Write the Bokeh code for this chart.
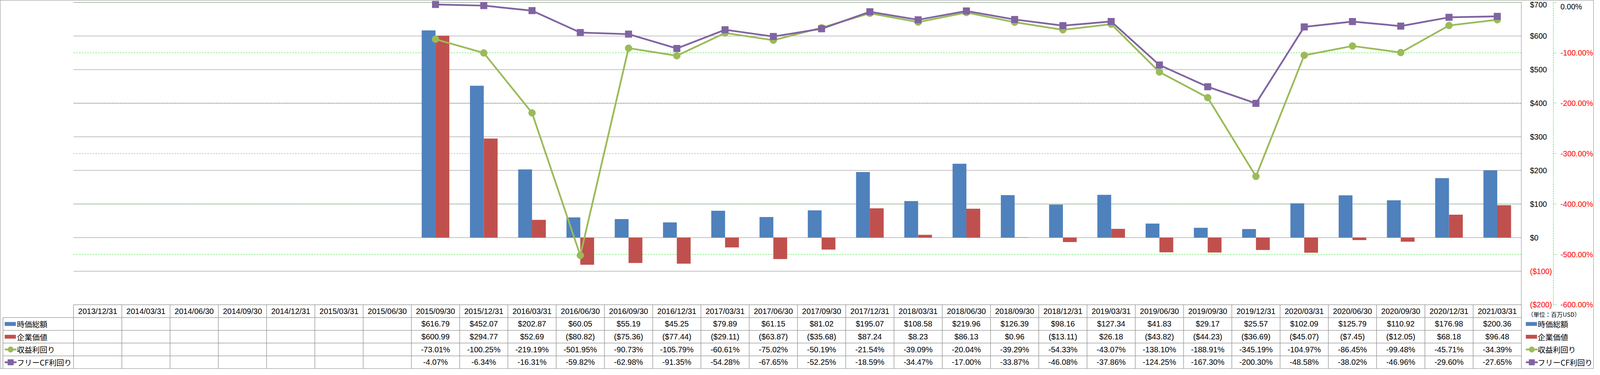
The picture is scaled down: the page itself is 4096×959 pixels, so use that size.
from bokeh.plotting import figure
from bokeh.models import Range1d, LinearAxis, FixedTicker, ColumnDataSource
from bokeh.core.properties import value
from bokeh.embed import file_html
from bokeh.resources import INLINE

# ---------------- data ----------------
dates = ["2013/12/31", "2014/03/31", "2014/06/30", "2014/09/30", "2014/12/31",
         "2015/03/31", "2015/06/30", "2015/09/30", "2015/12/31", "2016/03/31",
         "2016/06/30", "2016/09/30", "2016/12/31", "2017/03/31", "2017/06/30",
         "2017/09/30", "2017/12/31", "2018/03/31", "2018/06/30", "2018/09/30",
         "2018/12/31", "2019/03/31", "2019/06/30", "2019/09/30", "2019/12/31",
         "2020/03/31", "2020/06/30", "2020/09/30", "2020/12/31", "2021/03/31"]

# values from 2015/09/30 onward (earlier periods are blank)
market_cap = [616.79, 452.07, 202.87, 60.05, 55.19, 45.25, 79.89, 61.15, 81.02, 195.07,
              108.58, 219.96, 126.39, 98.16, 127.34, 41.83, 29.17, 25.57, 102.09, 125.79,
              110.92, 176.98, 200.36]
enterprise_value = [600.99, 294.77, 52.69, -80.82, -75.36, -77.44, -29.11, -63.87, -35.68, 87.24,
                    8.23, 86.13, 0.96, -13.11, 26.18, -43.82, -44.23, -36.69, -45.07, -7.45,
                    -12.05, 68.18, 96.48]
earnings_yield = [-73.01, -100.25, -219.19, -501.95, -90.73, -105.79, -60.61, -75.02, -50.19, -21.54,
                  -39.09, -20.04, -39.29, -54.33, -43.07, -138.10, -188.91, -345.19, -104.97, -86.45,
                  -99.48, -45.71, -34.39]
fcf_yield = [-4.07, -6.34, -16.31, -59.82, -62.98, -91.35, -54.28, -67.65, -52.25, -18.59,
             -34.47, -17.00, -33.87, -46.08, -37.86, -124.25, -167.30, -200.30, -48.58, -38.02,
             -46.96, -29.60, -27.65]

series_names = ["時価総額", "企業価値", "収益利回り", "フリーCF利回り"]
usd_ticks_pos = [700, 600, 500, 400, 300, 200, 100, 0]
usd_ticks_neg = [-100, -200]
pct_ticks_zero = [0]
pct_ticks_neg = [-100, -200, -300, -400, -500, -600]
unit_note = "（単位：百万USD）"

# ---------------- layout ----------------
W, H = 4080, 943
S = 0.895                      # drawing scale relative to the reference
BX, BY = -10.0, -8.0           # figure px = S * ref px + offset
PL, PR = 221.0, 4362.3         # plot area left/right (reference px)
NCAT = len(dates)
CW = (PR - PL) / NCAT          # category width (reference px)
Y700, Y0 = 15.3, 687.3         # reference rows of $700 and $0
PXD = (Y0 - Y700) / 700.0 * S  # figure px per dollar
YP0 = 15.3                     # reference row of 0%
PXP = 1.44 * S                 # figure px per percent
TT_REF = 879.3                 # table top (reference px)


def fx(xr):
    return S * xr + BX


def fy(yr):
    return S * yr + BY


def X(xr):                     # reference x -> category units
    return (xr - PL) / CW


TF0 = fy(TT_REF)               # table top in figure px
TROW = (H - 0.7 - TF0) / 5.0   # table row height in figure px

x_lo = X((0 - BX) / S)
x_hi = X((W - BX) / S)
usd_hi = (fy(Y0) - 0) / PXD
usd_lo = (fy(Y0) - H) / PXD
pct_hi = (fy(YP0) - 0) / PXP
pct_lo = (fy(YP0) - H) / PXP
tbl_hi = TF0 / TROW
tbl_lo = -(H - TF0) / TROW

BLUE, RED, GREEN, PURPLE = "#4F81BD", "#C0504D", "#9BBB59", "#8064A2"
GRID = "#878787"
LIME = "#22E022"
FONT = "Liberation Sans"
JFONT = "Noto Sans CJK JP"
JSIZE = "19.5px"

p = figure(width=W, height=H, x_range=Range1d(x_lo, x_hi),
           y_range=Range1d(usd_lo, usd_hi), output_backend="svg",
           toolbar_location=None, tools="", min_border=0, title=None,
           x_axis_location=None, y_axis_location=None)
p.xgrid.visible = False
p.ygrid.visible = False
p.outline_line_color = GRID
p.outline_line_width = 1
p.background_fill_color = "white"
p.border_fill_color = "white"
p.extra_y_ranges = {"pct": Range1d(pct_lo, pct_hi), "tbl": Range1d(tbl_lo, tbl_hi)}

first = NCAT - len(market_cap)
xc = [i + 0.5 for i in range(first, NCAT)]

# ---------------- gridlines ----------------
all_pct = pct_ticks_zero + pct_ticks_neg
p.segment(x0=[0] * len(all_pct), x1=[NCAT] * len(all_pct), y0=all_pct, y1=all_pct,
          y_range_name="pct", line_color=LIME, line_width=1, line_dash="4 3")
all_usd = usd_ticks_pos + usd_ticks_neg
p.segment(x0=[0] * len(all_usd), x1=[NCAT] * len(all_usd), y0=all_usd, y1=all_usd,
          line_color=GRID, line_width=1)

# ---------------- bars ----------------
BW = 39.5 / CW
BO = 19.75 / CW
p.vbar(x=[x - BO for x in xc], width=BW, top=market_cap, bottom=0,
       fill_color=BLUE, line_color=None)
p.vbar(x=[x + BO for x in xc], width=BW, top=enterprise_value, bottom=0,
       fill_color=RED, line_color=None)

# ---------------- lines ----------------
LW = 5 * S
MS = 20 * S
p.line(x=xc, y=earnings_yield, y_range_name="pct", line_color=GREEN, line_width=LW)
p.scatter(x=xc, y=earnings_yield, y_range_name="pct", marker="circle", size=MS,
          fill_color=GREEN, line_color=GREEN)
p.line(x=xc, y=fcf_yield, y_range_name="pct", line_color=PURPLE, line_width=LW)
p.scatter(x=xc, y=fcf_yield, y_range_name="pct", marker="square", size=MS * 0.95,
          fill_color=PURPLE, line_color=PURPLE)


# ---------------- axes ----------------
def usd_lbl(v):
    return f"${v}" if v >= 0 else f"(${-v})"


def axis_common(ax, size="19.5px"):
    ax.major_label_text_font = FONT
    ax.major_label_text_font_size = size
    ax.minor_tick_line_color = None
    ax.axis_label = None


ax1 = LinearAxis(fixed_location=NCAT, ticker=FixedTicker(ticks=usd_ticks_pos),
                 bounds=(-200, 700),
                 major_label_overrides={t: usd_lbl(t) for t in usd_ticks_pos})
axis_common(ax1)
ax1.axis_line_color = GRID
ax1.major_tick_line_color = None
ax1.major_tick_out = 0
ax1.major_tick_in = 0
ax1.major_label_standoff = 22
ax1.major_label_text_color = "black"
p.add_layout(ax1, "right")

ax2 = LinearAxis(fixed_location=NCAT, ticker=FixedTicker(ticks=usd_ticks_neg),
                 bounds=(-200, -100),
                 major_label_overrides={t: usd_lbl(t) for t in usd_ticks_neg})
axis_common(ax2)
ax2.axis_line_color = None
ax2.major_tick_line_color = None
ax2.major_tick_out = 0
ax2.major_tick_in = 0
ax2.major_label_standoff = 22
ax2.major_label_text_color = "#FF0000"
p.add_layout(ax2, "right")

PX_AX = X(4454)
ax3 = LinearAxis(y_range_name="pct", fixed_location=PX_AX,
                 ticker=FixedTicker(ticks=pct_ticks_zero), bounds=(-600, 0),
                 major_label_overrides={t: f"{t:.2f}%" for t in pct_ticks_zero})
axis_common(ax3)
ax3.axis_line_color = LIME
ax3.axis_line_dash = "4 2"
ax3.axis_line_width = 1
ax3.major_tick_line_color = LIME
ax3.major_tick_line_dash = "3 2"
ax3.major_tick_out = 8
ax3.major_tick_in = 0
ax3.major_label_standoff = 10
ax3.major_label_text_color = "black"
p.add_layout(ax3, "right")

ax4 = LinearAxis(y_range_name="pct", fixed_location=PX_AX,
                 ticker=FixedTicker(ticks=pct_ticks_neg), bounds=(-600, -100),
                 major_label_overrides={t: f"{t:.2f}%" for t in pct_ticks_neg})
axis_common(ax4)
ax4.axis_line_color = None
ax4.major_tick_line_color = LIME
ax4.major_tick_line_dash = "3 2"
ax4.major_tick_out = 8
ax4.major_tick_in = 0
ax4.major_label_standoff = 10
ax4.major_label_text_color = "#FF0000"
p.add_layout(ax4, "right")

# ---------------- data table ----------------
TL = X(19)
TGRID = "#8f8f8f"
hy = [0, -1, -2, -3, -4, -5]
hx0 = [0] + [TL] * 5
p.segment(x0=hx0, x1=[NCAT] * 6, y0=hy, y1=hy, y_range_name="tbl",
          line_color=TGRID, line_width=1.3)
vx = list(range(0, NCAT + 1))
p.segment(x0=vx, x1=vx, y0=[0] * len(vx), y1=[-5] * len(vx), y_range_name="tbl",
          line_color=TGRID, line_width=1.3)
p.segment(x0=[TL], x1=[TL], y0=[-1], y1=[-5], y_range_name="tbl",
          line_color=TGRID, line_width=1.3)


def fmt_usd(v):
    return f"${v:.2f}" if v >= 0 else f"(${-v:.2f})"


def fmt_pct(v):
    return f"{v:.2f}%"


tx, ty, tt = [], [], []
for i, d in enumerate(dates):
    tx.append(i + 0.5)
    ty.append(-0.5)
    tt.append(d)
rows = [(market_cap, fmt_usd), (enterprise_value, fmt_usd),
        (earnings_yield, fmt_pct), (fcf_yield, fmt_pct)]
for r, (vals, f) in enumerate(rows):
    for j, v in enumerate(vals):
        tx.append(first + j + 0.5)
        ty.append(-(r + 1.5))
        tt.append(f(v))
p.text(x="x", y="y", text="text", source=ColumnDataSource(dict(x=tx, y=ty, text=tt)),
       y_range_name="tbl", text_font=value(FONT), text_font_size="20px",
       text_align="center", text_baseline="middle", text_color="black")


# legend keys (in table label column and at right side)
def legend_block(x_left, x_text, ycs):
    sw = 32 / CW
    hh = 5.5 * S / TROW
    for k, yc in enumerate(ycs):
        if k < 2:
            p.quad(left=[x_left], right=[x_left + sw], bottom=[yc - hh], top=[yc + hh],
                   y_range_name="tbl", fill_color=[BLUE, RED][k], line_color=None)
        else:
            col = [GREEN, PURPLE][k - 2]
            p.segment(x0=[x_left], x1=[x_left + sw + 2 / CW], y0=[yc], y1=[yc],
                      y_range_name="tbl", line_color=col, line_width=LW)
            p.scatter(x=[x_left + (sw + 2 / CW) / 2], y=[yc], y_range_name="tbl",
                      marker=["circle", "square"][k - 2], size=16 * S,
                      fill_color=col, line_color=col)
    p.text(x=[x_text] * 4, y=ycs, text=series_names, y_range_name="tbl",
           text_font=value(JFONT), text_font_size=JSIZE, text_align="left",
           text_baseline="middle", text_color="black")


legend_block(X(24), X(59), [-1.5, -2.5, -3.5, -4.5])
legend_block(X(4375), X(4409), [-1.5, -2.5, -3.5, -4.5])

p.text(x=[X(4380)], y=[-0.73], text=[unit_note], y_range_name="tbl",
       text_font=value(JFONT), text_font_size="15px", text_align="left",
       text_baseline="middle", text_color="black")

open("out.html", "w").write(file_html(p, INLINE))
